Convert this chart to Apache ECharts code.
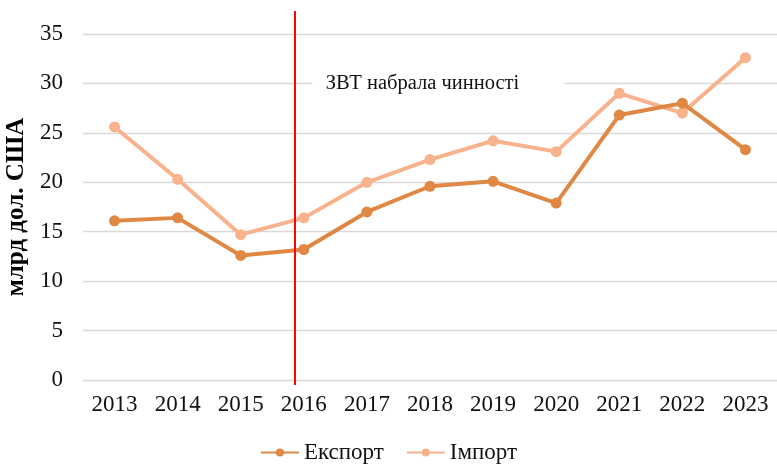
<!DOCTYPE html>
<html><head><meta charset="utf-8">
<script src="https://cdn.jsdelivr.net/npm/echarts@6/dist/echarts.min.js"></script>
<style>html,body{margin:0;padding:0;background:#fff}#c{width:777px;height:465px}</style>
</head><body><div id="c"></div>
<script>
const years = ['2013','2014','2015','2016','2017','2018','2019','2020','2021','2022','2023'];
const exportVals = [16.1, 16.4, 12.6, 13.2, 17.0, 19.6, 20.1, 17.9, 26.8, 28.0, 23.3];
const importVals = [25.6, 20.3, 14.7, 16.4, 20.0, 22.3, 24.2, 23.1, 29.0, 27.0, 32.6];
const yTicks = [0, 5, 10, 15, 20, 25, 30, 35];
const seriesNames = ['Експорт', 'Імпорт'];
const annotationText = 'ЗВТ набрала чинності';
const ftaPos = 2.86; // category position of the FTA marker (between 2015 and 2016)
const annoPos = { x: 4.88, y: 30 };

const FONT = 'Liberation Serif';
const chart = echarts.init(document.getElementById('c'), null, { renderer: 'canvas' });
chart.setOption({
  animation: false,
  grid: { left: 83, right: 0, top: 34, bottom: 85, outerBoundsMode: 'none', containLabel: false },
  legend: {
    bottom: -4, left: 'center', itemWidth: 38, itemHeight: 10, itemGap: 22,
    textStyle: { fontFamily: FONT, fontSize: 23, color: '#111' },
    data: seriesNames
  },
  xAxis: [{
    type: 'category', data: years, boundaryGap: true,
    axisLine: { show: false }, axisTick: { show: false },
    axisLabel: { fontFamily: FONT, fontSize: 23, color: '#111', margin: 13 }
  }, {
    type: 'value', min: -0.5, max: years.length - 0.5, show: false
  }],
  yAxis: {
    type: 'value', min: yTicks[0], max: yTicks[yTicks.length - 1], interval: 5,
    name: 'млрд дол. США', nameLocation: 'middle', nameGap: 47, nameRotate: 90,
    nameTextStyle: { fontFamily: FONT, fontSize: 25, fontWeight: 'bold', color: '#000' },
    axisLine: { show: false }, axisTick: { show: false },
    axisLabel: { fontFamily: FONT, fontSize: 23, color: '#111', margin: 20 },
    splitLine: { lineStyle: { color: '#D9D9D9', width: 1.3 } }
  },
  series: [{
    name: seriesNames[0], type: 'line', data: exportVals, xAxisIndex: 0,
    symbol: 'circle', symbolSize: 11, z: 3,
    lineStyle: { color: '#DF8743', width: 4 }, itemStyle: { color: '#DF8743' }
  }, {
    name: seriesNames[1], type: 'line', data: importVals, xAxisIndex: 0,
    symbol: 'circle', symbolSize: 11, z: 2,
    lineStyle: { color: '#F8B28C', width: 4 }, itemStyle: { color: '#F8B28C' }
  }]
});

const lx = chart.convertToPixel({ xAxisIndex: 1 }, ftaPos);
const ax = chart.convertToPixel({ xAxisIndex: 1 }, annoPos.x);
const ay = chart.convertToPixel({ yAxisIndex: 0 }, annoPos.y);
chart.setOption({
  graphic: [
    { type: 'rect', shape: { x: ax - 110, y: ay - 12, width: 252, height: 24 }, style: { fill: '#fff' }, z: 1 },
    { type: 'text', x: ax, y: ay, style: { text: annotationText, fontFamily: FONT, fontSize: 20.5, fill: '#111', align: 'center', verticalAlign: 'middle' }, z: 5 },
    { type: 'line', shape: { x1: lx, y1: 11, x2: lx, y2: 385 }, style: { stroke: '#FF0000', lineWidth: 2 }, z: 10 }
  ]
});
</script></body></html>
